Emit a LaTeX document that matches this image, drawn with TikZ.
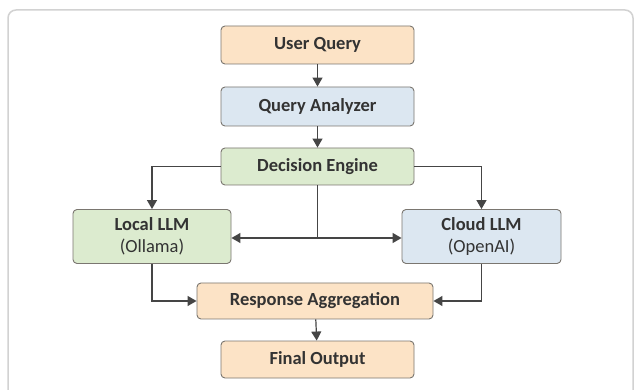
\documentclass[tikz,border=0pt]{standalone}
\usepackage{fontspec}
\setmainfont{Carlito}
\usetikzlibrary{arrows.meta}
\definecolor{peach}{HTML}{FCE3C6}
\definecolor{bluebox}{HTML}{DCE7F1}
\definecolor{greenbox}{HTML}{DCEBCF}
\definecolor{boxline}{HTML}{7A7670}
\definecolor{txt}{HTML}{333333}
\definecolor{conn}{HTML}{454545}
\definecolor{framecol}{HTML}{D2D2D2}
\tikzset{
  box/.style={draw=boxline, line width=0.9pt, rounded corners=4pt, inner sep=0pt,
    text=txt, align=center, font=\fontsize{18.5}{22.5}\selectfont},
  peachbox/.style={box, fill=peach},
  bluebx/.style={box, fill=bluebox},
  greenbx/.style={box, fill=greenbox},
  arr/.style={draw=conn, line width=1.2pt, -{Triangle[length=9pt,width=10pt]}},
  ln/.style={draw=conn, line width=1.2pt},
}
\begin{document}
\begin{tikzpicture}[x=1pt,y=-1pt]
\useasboundingbox (0,0) rectangle (635,390);
\fill[white] (0,0) rectangle (635,390);
\draw[framecol, line width=1.5pt, rounded corners=8pt] (8,10) rectangle (633,420);
\node[peachbox, minimum width=193pt, minimum height=38pt] (UQ) at (317.5,45) {\bfseries User Query};
\node[bluebx, minimum width=193pt, minimum height=39pt] (QA) at (317.5,106.5) {\bfseries Query Analyzer};
\node[greenbx, minimum width=193pt, minimum height=37pt] (DE) at (317.5,166.5) {\bfseries Decision Engine};
\node[greenbx, minimum width=158pt, minimum height=54pt] (LL) at (152,236.5) {\bfseries Local LLM\\(Ollama)};
\node[bluebx, minimum width=159pt, minimum height=54pt] (CL) at (481.5,236.5) {\bfseries Cloud LLM\\(OpenAI)};
\node[peachbox, minimum width=236pt, minimum height=36pt] (RA) at (315,301) {\bfseries Response Aggregation};
\node[peachbox, minimum width=193pt, minimum height=37pt] (FO) at (317.5,359.5) {\bfseries Final Output};
\coordinate (J) at (DE.south |- 0,238);
\draw[arr] (UQ) -- (QA);
\draw[arr] (QA) -- (DE);
\draw[arr] (DE.west) -| (LL.north);
\draw[arr] (DE.east) -| (CL.north);
\draw[ln] (DE.south) -- (J);
\draw[arr] (J) -- (J -| LL.east);
\draw[arr] (J) -- (J -| CL.west);
\draw[arr] (LL.south) |- (RA.west);
\draw[arr] (CL.south) |- (RA.east);
\draw[arr] (RA) -- (FO);
\end{tikzpicture}
\end{document}
